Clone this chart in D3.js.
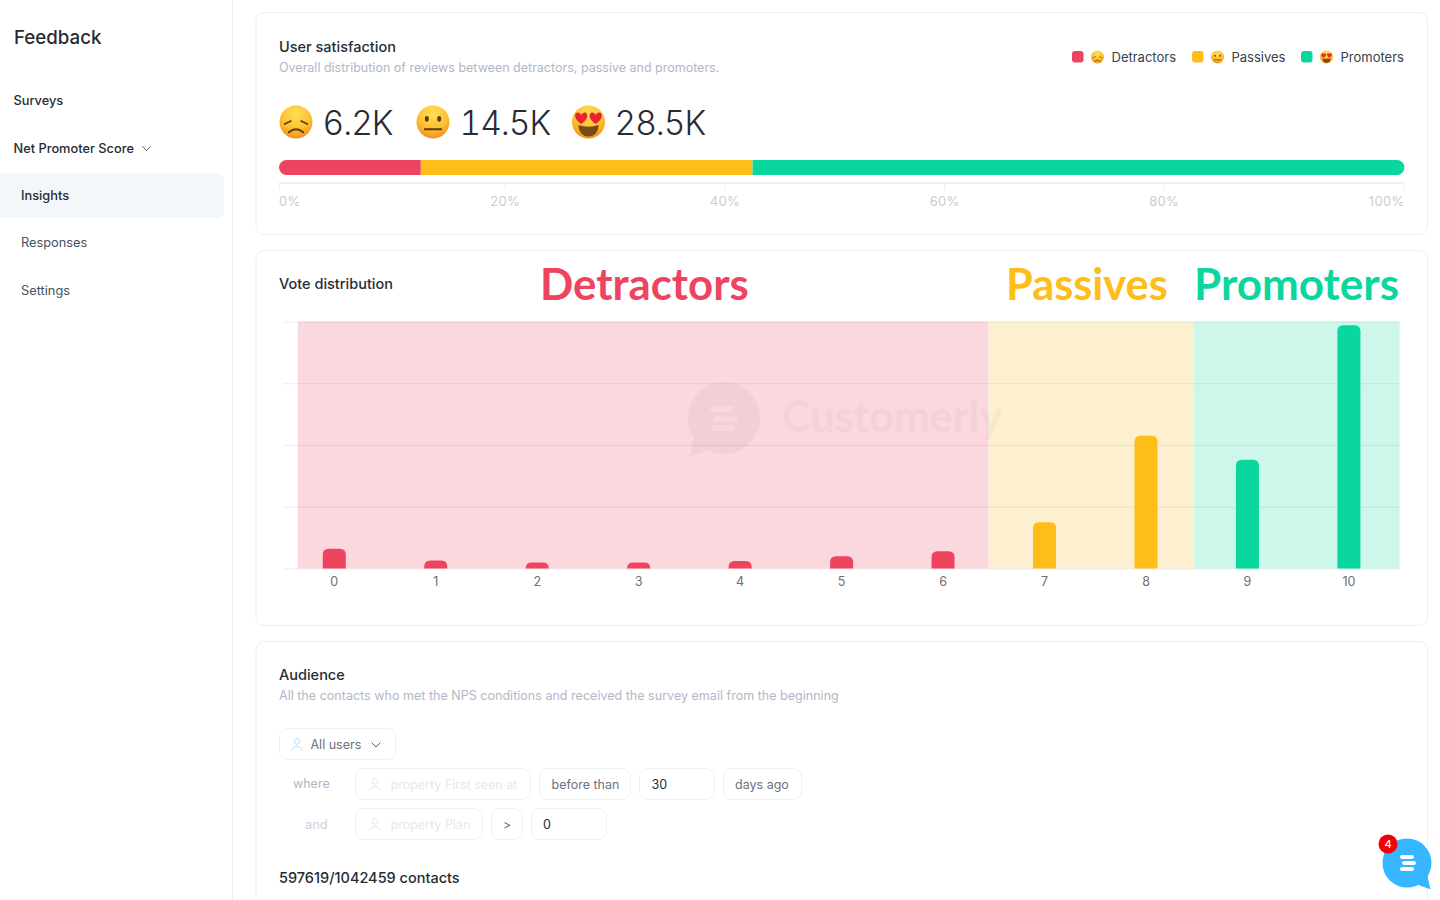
<!DOCTYPE html>
<html>
<head>
<meta charset="utf-8">
<title>Feedback</title>
<script src="https://cdn.jsdelivr.net/npm/d3@7"></script>
<style>
  html, body { margin: 0; padding: 0; background: #fff; overflow: hidden; }
  svg { display: block; }
  text { font-family: Inter, "Noto Sans", sans-serif; }
  .lato { font-family: Lato, sans-serif; font-weight: 700; }
  .big { font-variant-numeric: tabular-nums; letter-spacing: -1px; }
</style>
</head>
<body>
<div id="chart"></div>
<script>
// stacked bar
const segmentNames = ['Detractors', 'Passives', 'Promoters'];
const segmentTotals = [6200, 14500, 28500];
const segmentLabels = ['6.2K', '14.5K', '28.5K'];
const percentTicks = [0, 20, 40, 60, 80, 100];

// vote distribution
const scores = [0, 1, 2, 3, 4, 5, 6, 7, 8, 9, 10];
const votes = [1600, 640, 480, 480, 600, 1000, 1400, 3750, 10750, 8800, 19700];
const voteSegment = [0, 0, 0, 0, 0, 0, 0, 1, 1, 2, 2];
const voteGridTicks = [0, 5000, 10000, 15000, 20000];
// where the coloured backgrounds start and end, in score units
const bandEdges = [-0.36, 6.45, 8.47, 10.5];

const colors = ['#ee4460', '#ffbd1a', '#0ad6a0'];
const bandColors = ['#fbd7de', '#fdf0d0', '#cdf7ea'];
const ink = '#262c36';
const muted = '#b3b6c9';
const line = '#eceff2';

const svg = d3.select('#chart').append('svg').attr('width', 1440).attr('height', 900);
const defs = svg.append('defs');

const grad = defs.append('radialGradient').attr('id', 'face').attr('cx', '50%').attr('cy', '25%').attr('r', '80%');
grad.append('stop').attr('offset', '0%').attr('stop-color', '#ffdf55');
grad.append('stop').attr('offset', '55%').attr('stop-color', '#fdc132');
grad.append('stop').attr('offset', '100%').attr('stop-color', '#f08a1c');

function label(parent, str, x, y, size, color, weight, anchor) {
  return parent.append('text').attr('x', x).attr('y', y)
    .attr('font-size', size).attr('fill', color)
    .attr('font-weight', weight || 400)
    .attr('text-anchor', anchor || 'start')
    .text(str);
}

function card(y, h) {
  svg.append('rect').attr('x', 256).attr('y', y + 0.5).attr('width', 1171.5).attr('height', h)
    .attr('rx', 8).attr('fill', '#fff').attr('stroke', line);
}

// emojis are drawn on a 32 unit face since no colour emoji font is around
function emoji(parent, kind, cx, cy, r) {
  const g = parent.append('g').attr('transform', `translate(${cx},${cy}) scale(${r / 16})`);
  g.append('circle').attr('r', 16).attr('fill', 'url(#face)');
  const dark = '#5c3a14';
  if (kind === 0) {
    g.append('path').attr('d', 'M-11,2 L-5,-1 M11,2 L5,-1').attr('stroke', dark).attr('stroke-width', 1.6).attr('stroke-linecap', 'round');
    g.append('path').attr('d', 'M-7,10 Q0,4 7,10').attr('stroke', dark).attr('stroke-width', 1.8).attr('fill', 'none').attr('stroke-linecap', 'round');
  } else if (kind === 1) {
    g.append('ellipse').attr('cx', -6).attr('cy', -3).attr('rx', 1.9).attr('ry', 2.7).attr('fill', dark);
    g.append('ellipse').attr('cx', 6).attr('cy', -3).attr('rx', 1.9).attr('ry', 2.7).attr('fill', dark);
    g.append('path').attr('d', 'M-8,7 L8,7').attr('stroke', dark).attr('stroke-width', 1.8).attr('stroke-linecap', 'round');
  } else {
    g.append('path').attr('d', 'M-10,3 Q0,6 10,3 Q9,14 0,14 Q-9,14 -10,3 Z').attr('fill', '#7a4a16');
    const heart = 'M0,5 C-9,-1 -6,-7 -2.5,-6 C-1,-5.6 0,-4.5 0,-3.5 C0,-4.5 1,-5.6 2.5,-6 C6,-7 9,-1 0,5 Z';
    g.append('path').attr('d', heart).attr('transform', 'translate(-7,-3)').attr('fill', '#e8262f');
    g.append('path').attr('d', heart).attr('transform', 'translate(7,-3)').attr('fill', '#e8262f');
  }
}

function chevron(parent, x, y, size) {
  parent.append('path')
    .attr('d', `M${x - size},${y - size / 2} L${x},${y + size / 2} L${x + size},${y - size / 2}`)
    .attr('fill', 'none').attr('stroke', '#555b66').attr('stroke-width', 1).attr('stroke-linecap', 'round');
}

function person(parent, x, y, color) {
  parent.append('circle').attr('cx', x).attr('cy', y - 3).attr('r', 2.8).attr('fill', 'none').attr('stroke', color);
  parent.append('path').attr('d', `M${x - 5},${y + 6} C${x - 5},${y + 0.5} ${x + 5},${y + 0.5} ${x + 5},${y + 6}`)
    .attr('fill', 'none').attr('stroke', color);
}

function bubble(parent, cx, cy, r, tailDir, color, opacity) {
  const g = parent.append('g').attr('opacity', opacity);
  g.append('circle').attr('cx', cx).attr('cy', cy).attr('r', r).attr('fill', color);
  const t = r * 1.02 * tailDir;
  g.append('path')
    .attr('d', `M${cx + t * 0.8},${cy + r * 0.45} L${cx + t * 0.92},${cy + r} Q${cx + t * 1.02},${cy + r * 1.1} ${cx + t * 0.82},${cy + r * 1.03} L${cx + t * 0.3},${cy + r * 0.85} Z`)
    .attr('fill', color);
  return g;
}

// sidebar
svg.append('rect').attr('x', 232).attr('y', 0).attr('width', 1).attr('height', 900).attr('fill', line);
svg.append('path').attr('d', 'M0,173 H216 Q224,173 224,181 V210 Q224,218 216,218 H0 Z').attr('fill', '#f3f7fa');
label(svg, 'Feedback', 14, 44, 18.7, ink, 500);
label(svg, 'Surveys', 13.5, 105, 12.8, ink, 500);
label(svg, 'Net Promoter Score', 13.5, 153, 12.8, ink, 500);
chevron(svg, 146.5, 148.5, 4);
label(svg, 'Insights', 21, 200, 12.8, ink, 500);
label(svg, 'Responses', 21, 247, 12.8, '#4a505b', 400);
label(svg, 'Settings', 21, 295, 12.8, '#4a505b', 400);

// user satisfaction card
card(12, 222);
label(svg, 'User satisfaction', 279, 52, 14.5, ink, 500);
label(svg, 'Overall distribution of reviews between detractors, passive and promoters.', 279, 72, 12.5, muted);

const bigX = [{ e: 296, t: 322.5 }, { e: 433, t: 459.5 }, { e: 588.5, t: 614.5 }];
segmentLabels.forEach((s, i) => {
  emoji(svg, i, bigX[i].e, 122, 16.5);
  label(svg, s, bigX[i].t, 135, 33.5, ink, 300).attr('class', 'big');
});

const legendX = [1072, 1192, 1301];
segmentNames.forEach((s, i) => {
  svg.append('rect').attr('x', legendX[i]).attr('y', 51).attr('width', 11.5).attr('height', 11.5).attr('rx', 3).attr('fill', colors[i]);
  emoji(svg, i, legendX[i] + 25.5, 57, 6.5);
  label(svg, s, legendX[i] + 39.5, 61.5, 13, '#3a404b', 400);
});

const total = d3.sum(segmentTotals);
const xPct = d3.scaleLinear().domain([0, 100]).range([279, 1404.5]);
defs.append('clipPath').attr('id', 'stackClip').append('rect')
  .attr('x', xPct(0)).attr('y', 160).attr('width', xPct(100) - xPct(0)).attr('height', 15).attr('rx', 7.5);
const stack = svg.append('g').attr('clip-path', 'url(#stackClip)');
let running = 0;
segmentTotals.forEach((v, i) => {
  const from = running / total * 100;
  running += v;
  stack.append('rect').attr('x', xPct(from)).attr('y', 160)
    .attr('width', xPct(running / total * 100) - xPct(from)).attr('height', 15)
    .attr('fill', colors[i]);
});

// percent axis: labels are spread edge to edge with equal gaps, ticks follow the label
const pctAxis = svg.append('g');
pctAxis.append('line').attr('x1', xPct(0)).attr('x2', xPct(100)).attr('y1', 183).attr('y2', 183).attr('stroke', '#eeeeee').attr('stroke-width', 1.5);
const pctLabels = percentTicks.map(p => label(pctAxis, p + '%', 0, 205.5, 13, '#cccccc').attr('letter-spacing', 0.3));
const widths = pctLabels.map(t => t.node().getComputedTextLength());
const gap = (xPct(100) - xPct(0) - d3.sum(widths)) / (widths.length - 1);
let cursor = xPct(0);
pctLabels.forEach((t, i) => {
  t.attr('x', cursor);
  let tx = cursor + widths[i] / 2;
  if (i === 0) tx = cursor + 0.5;
  if (i === pctLabels.length - 1) tx = cursor + widths[i] - 0.5;
  pctAxis.append('line').attr('x1', tx).attr('x2', tx).attr('y1', 183).attr('y2', 190).attr('stroke', '#eeeeee');
  cursor += widths[i] + gap;
});

// vote distribution card
card(250, 375);
label(svg, 'Vote distribution', 279, 289, 14.5, ink, 500);
const headerX = [540, 1006, 1194];
const headerSize = [43.8, 43.4, 44];
segmentNames.forEach((s, i) => {
  label(svg, s, headerX[i], 300, headerSize[i], colors[i], 700).attr('class', 'lato');
});

const plotTop = 321.5, plotBottom = 568.5, plotLeft = 283.6, plotRight = 1399.6;
const x = d3.scaleBand().domain(scores).range([plotLeft, plotRight]).paddingInner(0.773).paddingOuter(0.386);
const xScore = d3.scaleLinear().domain([0, 10])
  .range([x(0) + x.bandwidth() / 2, x(10) + x.bandwidth() / 2]);
const y = d3.scaleLinear().domain([0, 20000]).range([plotBottom, plotTop]);

const plot = svg.append('g');
plot.selectAll('rect.band').data(bandColors).enter().append('rect')
  .attr('class', 'band')
  .attr('x', (d, i) => xScore(bandEdges[i]))
  .attr('y', plotTop)
  .attr('width', (d, i) => xScore(bandEdges[i + 1]) - xScore(bandEdges[i]))
  .attr('height', plotBottom - plotTop)
  .attr('fill', d => d);

const grid = plot.append('g').attr('transform', `translate(${plotLeft},0)`)
  .call(d3.axisLeft(y).tickValues(voteGridTicks).tickSize(-(plotRight - plotLeft)).tickFormat(''));
grid.select('.domain').remove();
grid.selectAll('line').attr('stroke', '#000').attr('stroke-opacity', 0.07);

// watermark
bubble(plot, 724, 418, 36, -1, '#000', 0.03);
const wm = plot.append('g').attr('fill', bandColors[0]).attr('opacity', 0.8);
[[710, 409], [714, 419], [711, 428]].forEach(p => {
  wm.append('rect').attr('x', p[0]).attr('y', p[1] - 3).attr('width', 24).attr('height', 6).attr('rx', 3);
});
label(plot, 'Customerly', 782, 432, 43, '#000', 700).attr('class', 'lato').attr('opacity', 0.022);

function roundedTop(xp, w, yTop, yBase, r) {
  const rr = Math.min(r, (yBase - yTop));
  return `M${xp},${yBase} V${yTop + rr} Q${xp},${yTop} ${xp + rr},${yTop} H${xp + w - rr} Q${xp + w},${yTop} ${xp + w},${yTop + rr} V${yBase} Z`;
}

plot.selectAll('path.bar').data(votes).enter().append('path')
  .attr('class', 'bar')
  .attr('d', (d, i) => roundedTop(x(scores[i]), x.bandwidth(), y(d), y(0), 6))
  .attr('fill', (d, i) => colors[voteSegment[i]]);

const xAxis = plot.append('g').attr('transform', `translate(0,${plotBottom})`)
  .call(d3.axisBottom(x).tickSize(0).tickPadding(9));
xAxis.select('.domain').remove();
xAxis.selectAll('text').attr('font-size', 12.5).attr('fill', '#6f6f6f')
  .attr('font-family', 'Inter, sans-serif');

// audience card, runs off the page
card(641, 300);
label(svg, 'Audience', 279, 680, 14.5, ink, 500);
label(svg, 'All the contacts who met the NPS conditions and received the survey email from the beginning', 279, 700, 12.55, muted);

function box(x0, x1, y0) {
  svg.append('rect').attr('x', x0 + 0.5).attr('y', y0 + 0.5).attr('width', x1 - x0 - 1).attr('height', 31)
    .attr('rx', 8).attr('fill', '#fff').attr('stroke', '#eef0f3');
}
const faint = '#e6e7ec';
const grey = '#6e727d';

box(279, 396, 728);
person(svg, 297, 744.5, '#b5e0fb');
label(svg, 'All users', 310.5, 749, 12.5, grey);
chevron(svg, 376, 745, 4);

label(svg, 'where', 293, 788, 12.5, muted);
box(355, 531, 768);
person(svg, 375, 784.5, faint);
label(svg, 'property First seen at', 390.5, 789, 12.5, faint);
box(539, 631, 768);
label(svg, 'before than', 551.5, 789, 12.5, grey);
box(639, 715, 768);
label(svg, '30', 651.5, 789, 12.5, ink);
box(723, 802, 768);
label(svg, 'days ago', 735, 789, 12.5, grey);

label(svg, 'and', 305, 829, 12.8, '#cfd1dc');
box(355, 483, 808);
person(svg, 375, 824.5, faint);
label(svg, 'property Plan', 390.5, 829, 12.5, faint);
box(491, 523, 808);
label(svg, '>', 503, 829, 12.5, grey);
box(531, 607, 808);
label(svg, '0', 543, 829, 12.5, ink);

label(svg, '597619/1042459 contacts', 279, 883, 14.5, ink, 500);

// chat widget
const chat = svg.append('g');
bubble(chat, 1407, 863, 24.5, 1, '#36b6ff', 1);
[[1400, 857], [1402, 863], [1400, 869]].forEach(p => {
  chat.append('rect').attr('x', p[0]).attr('y', p[1] - 2).attr('width', 14).attr('height', 4).attr('rx', 2).attr('fill', '#fff');
});
chat.append('circle').attr('cx', 1388).attr('cy', 844).attr('r', 9.5).attr('fill', '#f40009');
label(chat, '4', 1388, 848, 11, '#fff', 500, 'middle');
</script>
</body>
</html>
